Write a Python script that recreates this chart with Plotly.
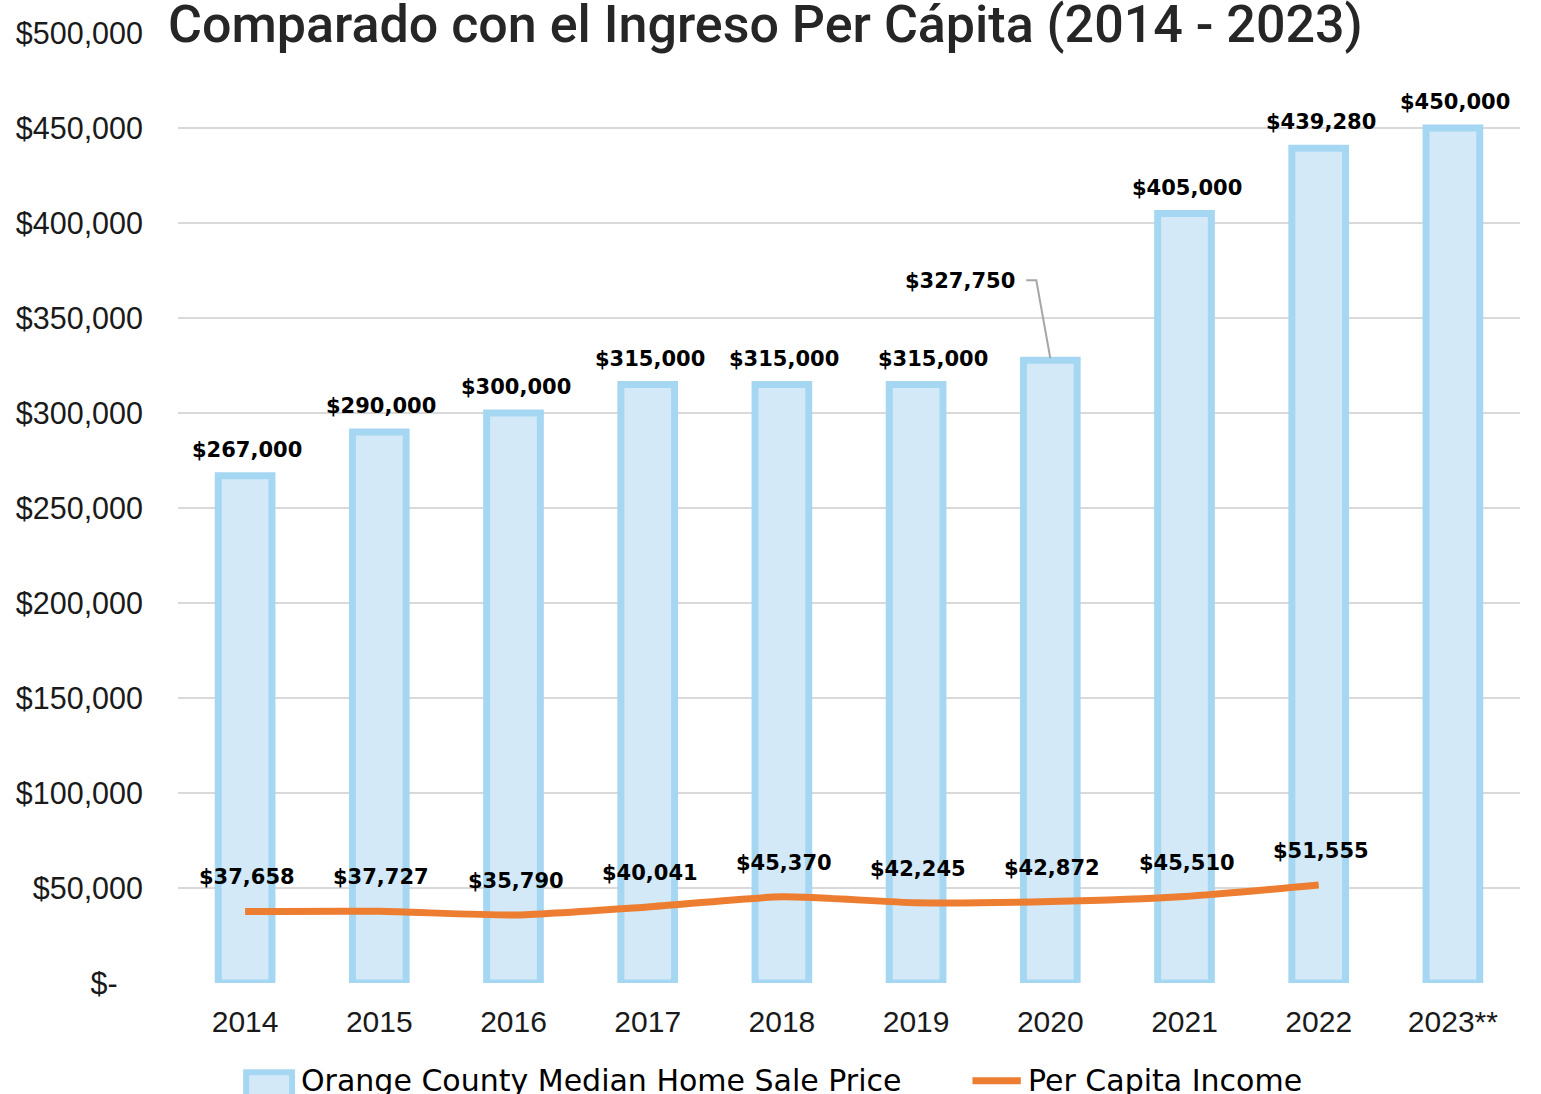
import plotly.graph_objects as go

# Chart data
years = ["2014", "2015", "2016", "2017", "2018", "2019", "2020", "2021", "2022", "2023**"]
home_price = [267000, 290000, 300000, 315000, 315000, 315000, 327750, 405000, 439280, 450000]
income_years = ["2014", "2015", "2016", "2017", "2018", "2019", "2020", "2021", "2022"]
per_capita_income = [37658, 37727, 35790, 40041, 45370, 42245, 42872, 45510, 51555]

y_tickvals = [0, 50000, 100000, 150000, 200000, 250000, 300000, 350000, 400000, 450000, 500000]
y_ticktext = ["$-\u00a0\u00a0\u00a0"] + [f"${v:,}" for v in y_tickvals[1:]]

title_text = "Comparado con el Ingreso Per Cápita (2014 - 2023)"
bar_name = "Orange County Median Home Sale Price"
line_name = "Per Capita Income"

BAR_FILL = "#D3E9F7"
BAR_EDGE = "#A6D7F2"
ORANGE = "#ED7D31"
GRID = "#D9D9D9"
LABEL_FONT = dict(family="DejaVu Sans", size=21, color="#000000")

fig = go.Figure()

fig.add_trace(go.Bar(
    x=years, y=home_price, name=bar_name,
    marker=dict(color=BAR_FILL, line=dict(color=BAR_EDGE, width=7)),
    showlegend=False, hoverinfo="skip",
))

fig.add_trace(go.Scatter(
    x=income_years, y=per_capita_income, name=line_name, mode="lines",
    line=dict(color=ORANGE, width=7, shape="spline", smoothing=0.6),
    showlegend=False, hoverinfo="skip",
))

annotations = []

# Home price value labels above the bars (2020 uses a leader line);
# positions on the category axis are given by index
for i, (yr, v) in enumerate(zip(years, home_price)):
    if yr == "2020":
        continue
    annotations.append(dict(
        x=i, y=v, xref="x", yref="y", text=f"<b>${v:,}</b>", showarrow=False,
        yanchor="middle", yshift=26, xshift=17 if yr == "2019" else 2,
        font=LABEL_FONT,
    ))
lead_idx = years.index("2020")
lead_val = home_price[lead_idx]
annotations.append(dict(
    x=lead_idx, y=lead_val, xref="x", yref="y", text=f"<b>${lead_val:,}</b>",
    showarrow=False, xanchor="right", yanchor="middle",
    xshift=-33, yshift=79, font=LABEL_FONT,
))

# Per capita income labels above the line
for i, v in enumerate(per_capita_income):
    annotations.append(dict(
        x=i, y=v, xref="x", yref="y", text=f"<b>${v:,}</b>", showarrow=False,
        yanchor="middle", yshift=34, xshift=2, font=LABEL_FONT,
    ))

# Title
annotations.append(dict(
    x=0.438, y=1.0, xref="paper", yref="paper", text=title_text, showarrow=False,
    xanchor="center", yanchor="middle", yshift=9,
    font=dict(family="Roboto", size=52, weight=500, color="#262626"),
))

# Legend
legend_y = -0.103
legend_font = dict(family="DejaVu Sans", size=30, color="#000000")
annotations.append(dict(
    x=0.0900, y=legend_y, xref="paper", yref="paper", text=bar_name, showarrow=False,
    xanchor="left", yanchor="middle", font=legend_font,
))
annotations.append(dict(
    x=0.6320, y=legend_y, xref="paper", yref="paper", text=line_name, showarrow=False,
    xanchor="left", yanchor="middle", font=legend_font,
))

shapes = [
    # leader line for the 2020 label
    dict(type="path", xref="x", yref="y", xsizemode="pixel", ysizemode="pixel",
         xanchor=lead_idx, yanchor=lead_val,
         path="M -24 80 L -14 80 L 0 2",
         line=dict(color="#A6A6A6", width=2)),
    # legend swatches
    dict(type="rect", xref="paper", yref="paper", x0=0.0508, x1=0.0850, y0=-0.094, y1=-0.125,
         fillcolor=BAR_FILL, line=dict(color=BAR_EDGE, width=6)),
    dict(type="line", xref="paper", yref="paper", x0=0.592, x1=0.628, y0=legend_y, y1=legend_y,
         line=dict(color=ORANGE, width=7)),
]

fig.update_layout(
    width=1541, height=1094,
    margin=dict(l=178, r=21, t=33, b=111, autoexpand=False),
    paper_bgcolor="white", plot_bgcolor="white",
    bargap=0.6,
    showlegend=False,
    annotations=annotations,
    shapes=shapes,
    xaxis=dict(
        type="category", categoryorder="array", categoryarray=years,
        range=[-0.5, len(years) - 0.5], autorange=False,
        showgrid=False, zeroline=False, showline=False,
        tickfont=dict(family="Liberation Sans", size=30, color="#1a1a1a"),
        ticks="", ticklabelstandoff=18,
    ),
    yaxis=dict(
        range=[0, 500000], tickvals=y_tickvals, ticktext=y_ticktext,
        showgrid=True, gridcolor=GRID, gridwidth=2, zeroline=False, showline=False,
        tickfont=dict(family="Liberation Sans", size=30.5, color="#1a1a1a"),
        ticks="", ticklabelstandoff=34,
    ),
)

fig.write_html("out.html")
